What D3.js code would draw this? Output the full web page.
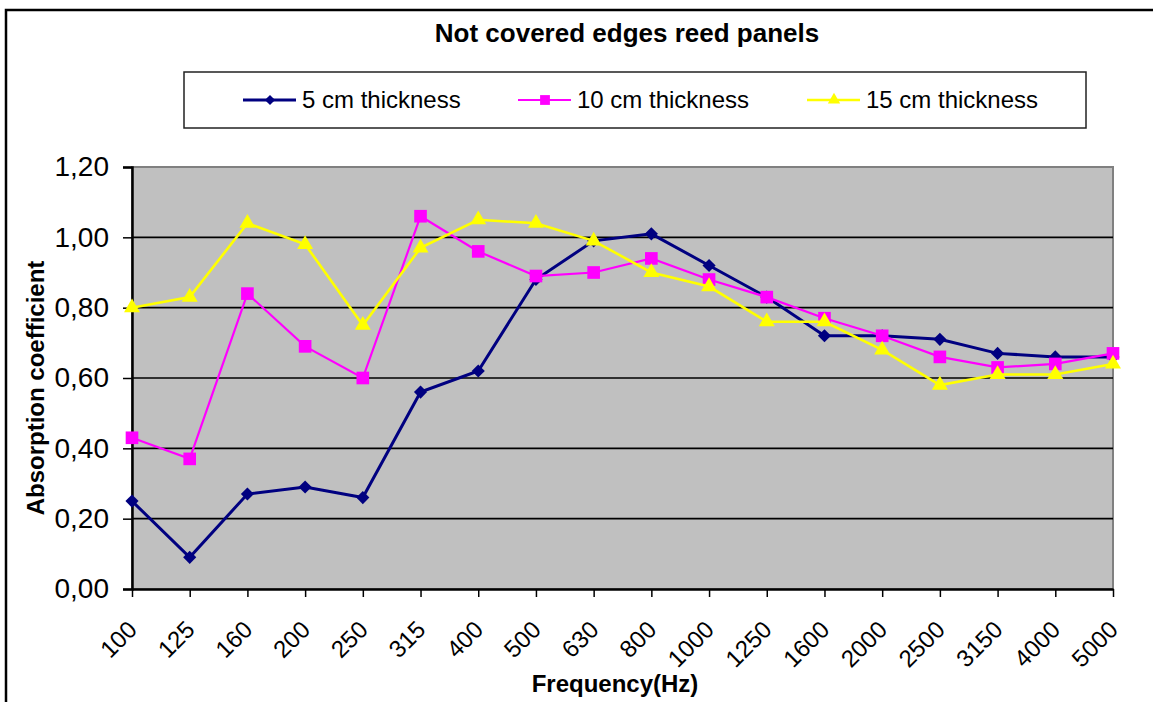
<!DOCTYPE html>
<html>
<head>
<meta charset="utf-8">
<script src="https://cdn.jsdelivr.net/npm/d3@7"></script>
<style>
  body { margin: 0; background: #ffffff; }
  text { font-family: Arial, "Liberation Sans", sans-serif; }
</style>
</head>
<body>
<script>
// data
frequencies = ["100", "125", "160", "200", "250", "315", "400", "500", "630", "800",
               "1000", "1250", "1600", "2000", "2500", "3150", "4000", "5000"]
thick5  = [0.25, 0.09, 0.27, 0.29, 0.26, 0.56, 0.62, 0.88, 0.99, 1.01, 0.92, 0.83, 0.72, 0.72, 0.71, 0.67, 0.66, 0.66]
thick10 = [0.43, 0.37, 0.84, 0.69, 0.60, 1.06, 0.96, 0.89, 0.90, 0.94, 0.88, 0.83, 0.77, 0.72, 0.66, 0.63, 0.64, 0.67]
thick15 = [0.80, 0.83, 1.04, 0.98, 0.75, 0.97, 1.05, 1.04, 0.99, 0.90, 0.86, 0.76, 0.76, 0.68, 0.58, 0.61, 0.61, 0.64]
seriesNames = ["5 cm thickness", "10 cm thickness", "15 cm thickness"]
yTicks = [0, 0.2, 0.4, 0.6, 0.8, 1.0, 1.2]

let width = 1153
let height = 702

// plot area (note: "top" is taken by window.top, so prefix them)
let plotLeft = 132
let plotRight = 1113
let plotTop = 167
let plotBottom = 589

let series = [
  {name: seriesNames[0], values: thick5,  color: "#000080", symbol: d3.symbolDiamond2, size: 110, lw: 3},
  {name: seriesNames[1], values: thick10, color: "#ff00ff", symbol: d3.symbolSquare,   size: 160, lw: 2.2},
  {name: seriesNames[2], values: thick15, color: "#ffff00", symbol: d3.symbolTriangle, size: 110, lw: 2.6}
]

let svg = d3.select("body")
    .append("svg")
    .attr("width", width)
    .attr("height", height)

// outer frame (only top and left visible)
svg.append("path")
    .attr("d", "M6," + (height + 5) + "V10H" + (width + 5))
    .attr("fill", "none")
    .attr("stroke", "black")
    .attr("stroke-width", 2.5)

// title
svg.append("text")
    .attr("x", 627)
    .attr("y", 42)
    .attr("text-anchor", "middle")
    .attr("font-size", 26)
    .attr("font-weight", "bold")
    .text("Not covered edges reed panels")

// legend
let legend = svg.append("g")
legend.append("rect")
    .attr("x", 184)
    .attr("y", 72)
    .attr("width", 902)
    .attr("height", 56)
    .attr("fill", "white")
    .attr("stroke", "#222")
    .attr("stroke-width", 1.5)

let legendX = [243, 518, 807]
series.forEach(function(s, i) {
    let g = legend.append("g").attr("transform", "translate(" + legendX[i] + ",100)")
    g.append("line")
        .attr("x1", 0).attr("x2", 53)
        .attr("stroke", s.color)
        .attr("stroke-width", s.lw)
    g.append("path")
        .attr("d", d3.symbol().type(s.symbol).size(s.size * 0.6)())
        .attr("transform", "translate(27,0)")
        .attr("fill", s.color)
    g.append("text")
        .attr("x", 59)
        .attr("y", 8)
        .attr("font-size", 24)
        .text(s.name)
})

// scales
let x = d3.scalePoint().domain(frequencies).range([plotLeft, plotRight])
let y = d3.scaleLinear().domain([0, 1.2]).range([plotBottom, plotTop])

// plot background
svg.append("rect")
    .attr("x", plotLeft)
    .attr("y", plotTop)
    .attr("width", plotRight - plotLeft)
    .attr("height", plotBottom - plotTop)
    .attr("fill", "#c0c0c0")
    .attr("stroke", "#808080")
    .attr("stroke-width", 2)

// gridlines
svg.selectAll("line.grid")
    .data(yTicks.slice(1, -1))
    .enter()
    .append("line")
    .attr("class", "grid")
    .attr("x1", plotLeft)
    .attr("x2", plotRight)
    .attr("y1", d => y(d))
    .attr("y2", d => y(d))
    .attr("stroke", "black")
    .attr("stroke-width", 1.6)

// y axis
let yAxis = svg.append("g")
    .attr("transform", "translate(" + plotLeft + ",0)")
    .call(d3.axisLeft(y).tickValues(yTicks).tickSize(9).tickPadding(14)
        .tickFormat(d => d3.format(".2f")(d).replace(".", ",")))
yAxis.select(".domain").attr("stroke-width", 2.5)
yAxis.selectAll(".tick line").attr("stroke-width", 1.5)
yAxis.selectAll("text")
    .attr("font-size", 28)
    .attr("font-family", "Arial, 'Liberation Sans', sans-serif")
    .attr("fill", "black")

// x axis
let xAxis = svg.append("g")
    .attr("transform", "translate(0," + plotBottom + ")")
    .call(d3.axisBottom(x).tickSize(8).tickSizeOuter(0))
xAxis.select(".domain").attr("stroke-width", 2.5)
xAxis.selectAll(".tick line").attr("stroke-width", 1.5)
xAxis.selectAll("text")
    .attr("font-size", 24)
    .attr("font-family", "Arial, 'Liberation Sans', sans-serif")
    .attr("fill", "black")
    .attr("text-anchor", "end")
    .attr("dy", 0)
    .attr("y", 0)
    .attr("transform", "translate(6,42) rotate(-45)")

// axis titles
svg.append("text")
    .attr("transform", "translate(44,388) rotate(-90)")
    .attr("text-anchor", "middle")
    .attr("font-size", 24)
    .attr("font-weight", "bold")
    .text("Absorption coefficient")

svg.append("text")
    .attr("x", 615)
    .attr("y", 692)
    .attr("text-anchor", "middle")
    .attr("font-size", 24)
    .attr("font-weight", "bold")
    .text("Frequency(Hz)")

// lines and markers
let line = d3.line()
    .x((d, i) => x(frequencies[i]))
    .y(d => y(d))

series.forEach(function(s) {
    svg.append("path")
        .datum(s.values)
        .attr("d", line)
        .attr("fill", "none")
        .attr("stroke", s.color)
        .attr("stroke-width", s.lw)

    svg.selectAll("empty")
        .data(s.values)
        .enter()
        .append("path")
        .attr("d", d3.symbol().type(s.symbol).size(s.size)())
        .attr("transform", (d, i) => "translate(" + x(frequencies[i]) + "," + y(d) + ")")
        .attr("fill", s.color)
})
</script>
</body>
</html>
